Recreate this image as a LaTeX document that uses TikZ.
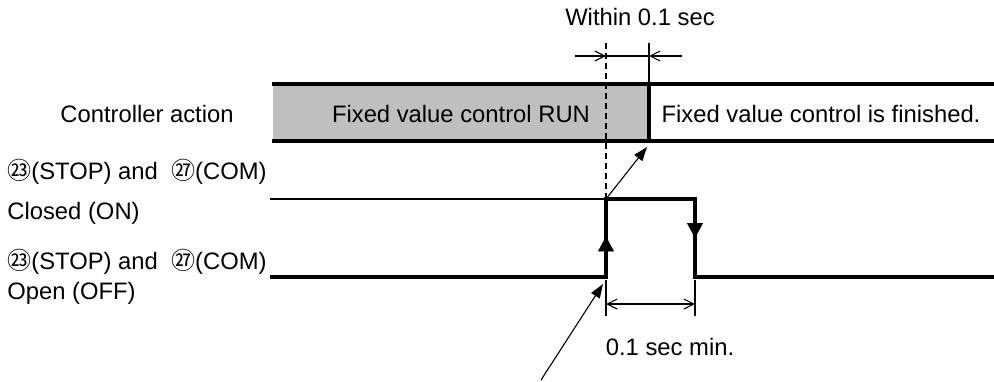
\documentclass[tikz,border=0pt]{standalone}
\usepackage{fontspec}
\setmainfont{Liberation Sans}
\newfontfamily\cjk{Noto Sans CJK JP}
\usetikzlibrary{arrows.meta,decorations.markings}
\newcommand{\circnum}[1]{{\cjk\fontsize{12}{13}\selectfont #1}}

\begin{document}
\begin{tikzpicture}[x=0.5pt,y=-0.5pt,
  every node/.style={font=\fontsize{11.9}{14}\selectfont, inner sep=0pt},
  bar/.style={line width=1.7pt},
  sig/.style={line width=1.9pt},
  thinline/.style={line width=0.55pt},
  barb/.style={-{Straight Barb[length=5pt,width=5pt]}},
  dim/.style={thinline, {Straight Barb[length=5pt,width=5pt]}-{Straight Barb[length=5pt,width=5pt]}},
  ptr/.style={thinline, -{Triangle[length=7pt,width=5pt]}},
  edgearrow/.style={postaction={decorate}, decoration={markings,
      mark=at position #1 with {\arrow{Triangle[length=7.5pt,width=8pt]}}}}]
  \useasboundingbox (0,0) rectangle (994,381);

  % controller action row
  \fill[gray!50] (273,84) rectangle (649,141);
  \draw[bar] (272,84) -- (994,84);
  \draw[bar] (272,141) -- (994,141);
  \draw[line width=1.9pt] (649,84) -- (649,141);
  \node (ctrl) at (147,114) {Controller action};
  \node (run) at (461,114) {Fixed value control RUN};
  \node (fin) at (821,114) {Fixed value control is finished.};

  % within 0.1 sec
  \node (within) at (640,17) {Within 0.1 sec};
  \coordinate (t1) at (606,56);
  \coordinate (t2) at (649,56);
  \coordinate (t1out) at (575,56);
  \coordinate (t2out) at (682,56);
  \draw[line width=1pt] (649,43) -- (649,84);
  \draw[line width=0.8pt, dash pattern=on 3pt off 2pt] (606,43) -- (606,199);
  \draw[thinline, barb] (t1out) -- (t1);
  \draw[line width=0.9pt] (t1) -- (t2);
  \draw[thinline, barb] (t2out) -- (t2);

  % signal
  \coordinate (lowL) at (270,277);
  \coordinate (highL) at (270,199);
  \coordinate (riseB) at (606,277);
  \coordinate (riseT) at (606,199);
  \coordinate (fallT) at (695,199);
  \coordinate (fallB) at (695,277);
  \coordinate (lowR) at (994,277);
  \draw[line width=0.8pt] (highL) -- (riseT);
  \draw[sig] (lowL) -- (riseB) -- (riseT) -- (fallT) -- (fallB) -- (lowR);
  \path[edgearrow=0.52] (riseB) -- (riseT);
  \path[edgearrow=0.5] (fallT) -- (fallB);

  \node[anchor=west] (on1) at (7,172) {\circnum{㉓}(STOP) and \ \circnum{㉗}(COM)};
  \node[anchor=west] (on2) at (7,213) {Closed (ON)};
  \node[anchor=west] (off1) at (7,262) {\circnum{㉓}(STOP) and \ \circnum{㉗}(COM)};
  \node[anchor=west] (off2) at (7,293) {Open (OFF)};

  % 0.1 sec min.
  \coordinate (d1) at (606,304);
  \coordinate (d2) at (695,304);
  \draw[thinline] (606,280) -- (606,316);
  \draw[thinline] (695,280) -- (695,316);
  \draw[dim] (d1) -- (d2);
  \node (minsec) at (670,347) {0.1 sec min.};

  % pointers
  \coordinate (boxcorner) at (647,147);
  \coordinate (ptrfoot) at (541,380);
  \coordinate (ptrtip) at (603,284);
  \draw[ptr] (riseT) -- (boxcorner);
  \draw[ptr] (ptrfoot) -- (ptrtip);
\end{tikzpicture}
\end{document}
